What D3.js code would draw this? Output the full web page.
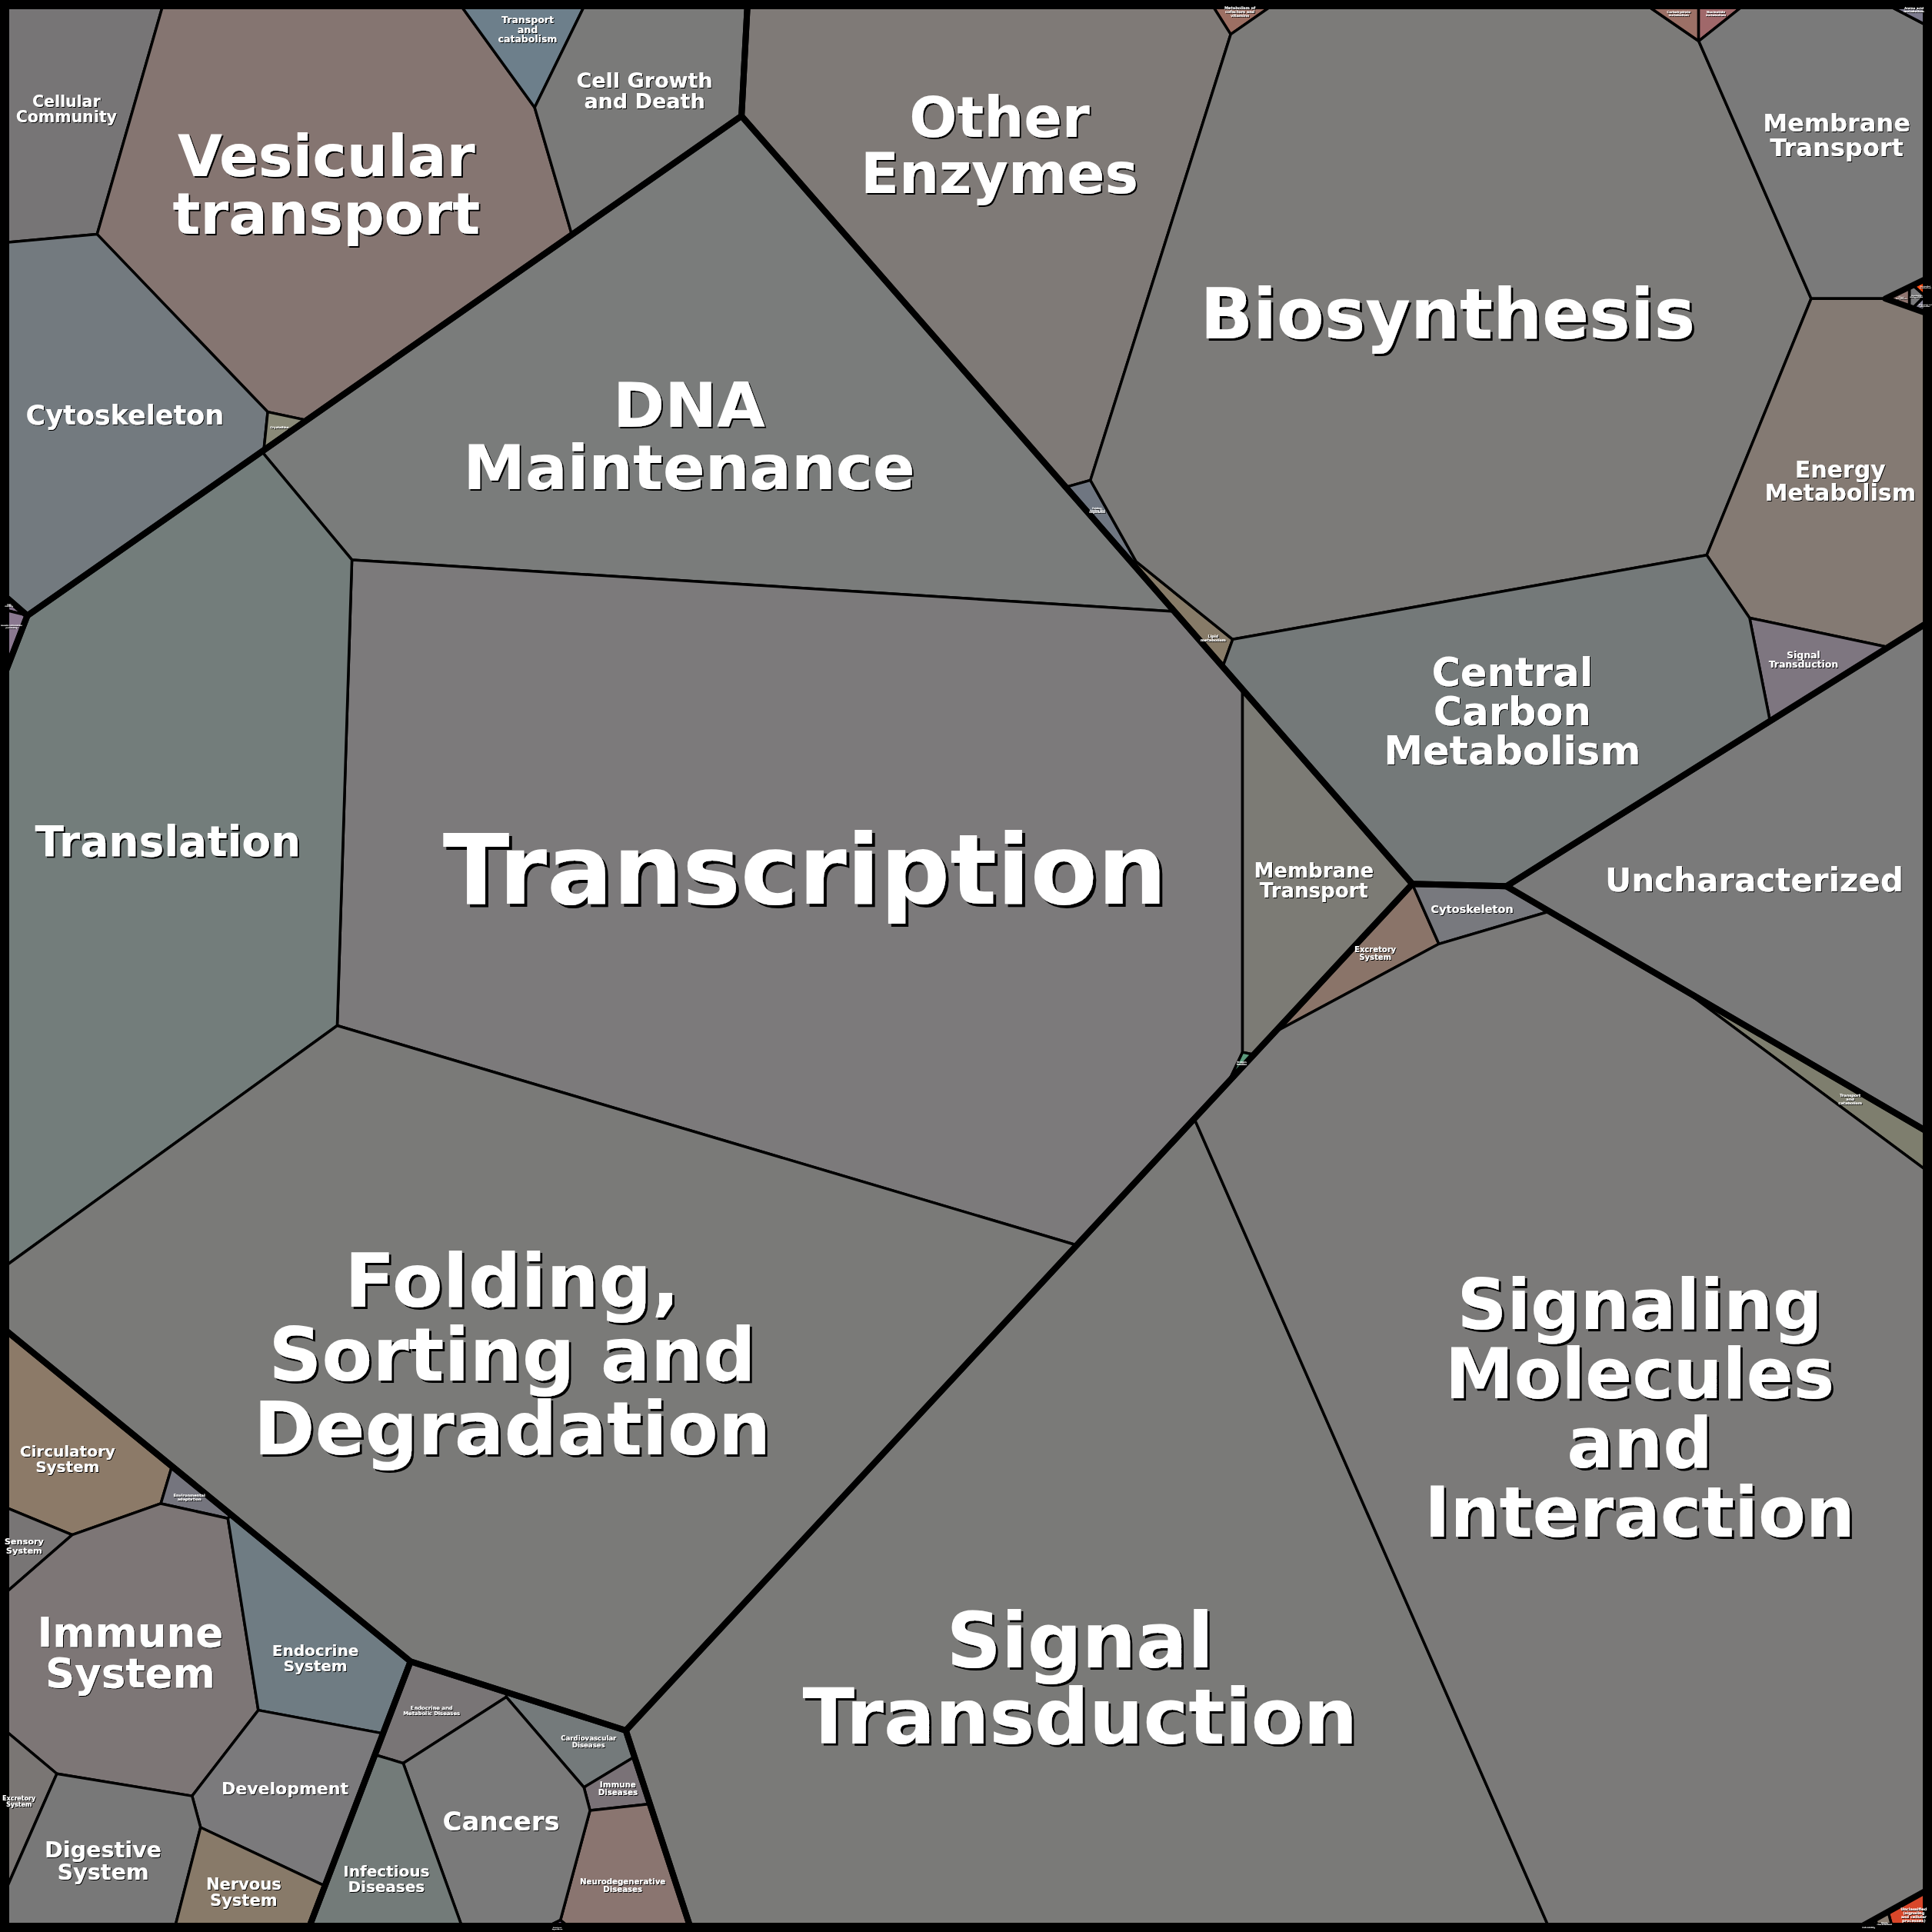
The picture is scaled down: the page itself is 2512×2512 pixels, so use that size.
<!DOCTYPE html>
<html><head><meta charset="utf-8">
<script src="https://cdn.jsdelivr.net/npm/d3@7"></script>
<style>html,body{margin:0;padding:0;background:#000;} svg{display:block;}</style>
</head><body>
<svg id="chart" width="2512" height="2512"></svg>
<script>
// ================= DATA (values = share of area) =================
const groupNames = ["Cellular Processes","Genetic Information Processing","Metabolism","Uncharacterized","Environmental Information Processing","Organismal Systems","Human Diseases","Unclassified"];

const cpNames  = ["Cellular\nCommunity","Vesicular\ntransport","Transport\nand\ncatabolism","Cell Growth\nand Death","Cytoskeleton","Crystalline"];
const cpValues = [204, 918, 46, 221, 433, 5];

const gipNames  = ["DNA\nMaintenance","Transcription","Membrane\nTransport","Protein\nfamilies","Translation","Folding,\nSorting and\nDegradation"];
const gipValues = [1535, 3242, 210, 1.2, 1381, 2775];

const metNames  = ["Metabolism of\ncofactors and\nvitamins","Other\nEnzymes","Folding,\nSorting and\nDegradation","Lipid\nmetabolism","Biosynthesis","Carbohydrate\nmetabolism","Nucleotide\nmetabolism","Membrane\nTransport","Amino acid\nmetabolism","Energy\nMetabolism","Signal\nTransduction","Central\nCarbon\nMetabolism"];
const metValues = [8, 953, 9, 13, 2314, 8, 7, 347, 5, 391, 45, 747];

const umNames  = ["Glycan\nbiosynthesis","Xenobiotics\nbiodegradation","Unclassified\n(metabolism)","Terpenoids and\npolyketides"];
const umValues = [1.6, 1.4, 1.5, 1.5];

const uncNames  = ["Uncharacterized"];
const uncValues = [720];

const eipNames  = ["Excretory\nSystem","Cytoskeleton","Transport\nand\ncatabolism","Signal\nTransduction","Signaling\nMolecules\nand\nInteraction"];
const eipValues = [40, 32, 33, 2804, 3487];

const usNames  = ["Unclassified\n(signaling\nand cellular\nprocesses)","Poorly\ncharacterized","Cell motility"];
const usValues = [9, 1.6, 1.2];

const osNames  = ["Circulatory\nSystem","Environmental\nadaptation","Sensory\nSystem","Immune\nSystem","Endocrine\nSystem","Development","Excretory\nSystem","Digestive\nSystem","Nervous\nSystem"];
const osValues = [137, 10, 22, 386, 136, 135, 33, 163, 68];

const hdNames  = ["Endocrine and\nMetabolic Diseases","Cardiovascular\nDiseases","Immune\nDiseases","Neurodegenerative\nDiseases","Cancers","Infectious\nDiseases","Substance\ndependence"];
const hdValues = [44, 34, 14, 79, 191, 105, 1.5];

const unNames  = ["Cell\nmotility","Genetic information\nprocessing"];
const unValues = [1.5, 7];

// ================= LAYOUT SEEDS (initial site positions, 1568 design grid) =================
const groupSeeds = [[258,220],[626,746],[1172,269],[1450,713],[1148,1231],[113,1373],[391,1479],[8,507]];
const cpSeeds  = [[42,86],[265,150],[428,32],[518,76],[65,342],[221,358]];
const gipSeeds = [[669,228],[640,690],[1045,690],[1008,864],[133,674],[496,1175]];
const metSeeds = [[1006,8],[794,142],[877,438],[1011,481],[1185,265],[1362,8],[1394,8],[1492,131],[1556,8],[1492,390],[1465,518],[1238,563]];
const umSeed = [1545,240];
const umSeeds  = [[1534,241],[1549,241],[1557,232],[1557,249]];
const uncSeeds = [[1450,713]];
const eipSeeds = [[1115,774],[1203,735],[1532,918],[840,1400],[1335,1183]];
const usSeed = [1540,1553];
const usSeeds  = [[1550,1550],[1524,1557],[1508,1562]];
const osSeeds  = [[50,1184],[134,1209],[24,1247],[105,1340],[250,1317],[228,1435],[17,1445],[83,1474],[196,1503]];
const hdSeeds  = [[356,1394],[474,1423],[494,1456],[499,1502],[410,1478],[321,1510],[451,1562]];
const unSeeds  = [[14,489],[8,514]];

// ================= STYLES =================
const cpColors  = ["#777576","#857571","#6d7f8b","#7a7a79","#737a7f","#8a8a78"];
const gipColors = ["#7a7c7b","#7c7a7b","#7c7b75","#5c9a7c","#737d7b","#7a7a78"];
const metColors = ["#9c6f63","#7f7a77","#6f7681","#877b68","#7c7b79","#9c7066","#a0686a","#7a7a7a","#7c7a8e","#847a73","#7e7680","#747979"];
const umColors  = ["#8d736e","#7a7a7c","#ff4b10","#8c8a9c"];
const uncColors = ["#7a7a7a"];
const eipColors = ["#8a7469","#78797e","#7e7e6e","#7a7a78","#7b7a79"];
const usColors  = ["#d9472a","#8c7f72","#9a98a8"];
const osColors  = ["#8c7a68","#75757e","#787575","#7d7676","#6f7c83","#7b7a7c","#7a7674","#787878","#887a69"];
const hdColors  = ["#797576","#747a7b","#7a7277","#8a7570","#7a7a7a","#737b79","#8a6c98"];
const unColors  = ["#86748c","#8a7890"];

const cpFont  = [20.5, 75, 12.5, 27, 35, 4];
const gipFont = [81, 127, 26, 3, 55, 96];
const metFont = [5, 73, 3, 5, 90, 4, 4, 32, 4, 30, 12.4, 51];
const umFont  = [2, 2, 2, 2];
const uncFont = [42];
const eipFont = [10, 14.6, 5, 99, 90];
const usFont  = [5, 2.5, 2.5];
const osFont  = [20, 5, 11.3, 53, 20, 22, 8, 28.6, 21];
const hdFont  = [6.8, 8.6, 10.3, 10.2, 34, 20, 2];
const unFont  = [2.5, 2.5];

// ================= BUILD HIERARCHY =================
const SIZE = 2512, K = SIZE / 1568;
function leaves(names, values, seeds, colors, fonts) {
  return names.map((n, i) => ({name: n, value: values[i], seed: seeds[i], color: colors[i], font: fonts[i]}));
}
const umNode = {name: "Unclassified metabolism", seed: umSeed, children: leaves(umNames, umValues, umSeeds, umColors, umFont)};
const usNode = {name: "Unclassified signaling", seed: usSeed, children: leaves(usNames, usValues, usSeeds, usColors, usFont)};
const groupChildren = [
  leaves(cpNames, cpValues, cpSeeds, cpColors, cpFont),
  leaves(gipNames, gipValues, gipSeeds, gipColors, gipFont),
  leaves(metNames, metValues, metSeeds, metColors, metFont).concat([umNode]),
  leaves(uncNames, uncValues, uncSeeds, uncColors, uncFont),
  leaves(eipNames, eipValues, eipSeeds, eipColors, eipFont).concat([usNode]),
  leaves(osNames, osValues, osSeeds, osColors, osFont),
  leaves(hdNames, hdValues, hdSeeds, hdColors, hdFont),
  leaves(unNames, unValues, unSeeds, unColors, unFont)
];
const rootData = {name: "root", children: groupNames.map((g, i) => ({name: g, seed: groupSeeds[i], children: groupChildren[i]}))};
const root = d3.hierarchy(rootData).sum(d => d.children ? 0 : d.value);

// ================= POWER DIAGRAM (weighted Voronoi) TREEMAP =================
function clipHalf(poly, a, b, c) {
  const out = [], n = poly.length;
  for (let i = 0; i < n; i++) {
    const P = poly[i], Q = poly[(i + 1) % n];
    const fp = a * P[0] + b * P[1] - c, fq = a * Q[0] + b * Q[1] - c;
    if (fp <= 0) out.push(P);
    if ((fp <= 0) !== (fq <= 0)) {
      const t = fp / (fp - fq);
      out.push([P[0] + t * (Q[0] - P[0]), P[1] + t * (Q[1] - P[1])]);
    }
  }
  return out;
}
function powerCell(i, S, clip) {
  let poly = clip;
  const si = S[i];
  for (let j = 0; j < S.length; j++) {
    if (j === i) continue;
    const sj = S[j];
    const a = 2 * (sj.x - si.x), b = 2 * (sj.y - si.y);
    const c = sj.x * sj.x + sj.y * sj.y - si.x * si.x - si.y * si.y - sj.w + si.w;
    poly = clipHalf(poly, a, b, c);
    if (poly.length < 3) return [];
  }
  return poly;
}
const area = P => Math.abs(d3.polygonArea(P));

function solvePower(clip, items) {
  const n = items.length;
  if (n === 1) return [clip];
  const S = items.map(d => ({x: d.x, y: d.y, w: 0}));
  const d2 = S.map(a => S.map(b => (a.x - b.x) ** 2 + (a.y - b.y) ** 2));
  let polys = [];
  for (let it = 0; it < 5000; it++) {
    polys = S.map((s, i) => powerCell(i, S, clip));
    let maxRel = 0;
    const dw = new Array(n).fill(0);
    for (let i = 0; i < n; i++) {
      let dnn = Infinity;
      for (let j = 0; j < n; j++) if (j !== i) dnn = Math.min(dnn, d2[i][j]);
      const P = polys[i], T = items[i].target;
      if (P.length < 3) {
        let m = -Infinity;
        for (let j = 0; j < n; j++) if (j !== i) m = Math.max(m, S[j].w - d2[i][j]);
        dw[i] = Math.max(m + 1 - S[i].w, 0.02 * dnn);
        maxRel = Infinity;
        continue;
      }
      const A = area(P);
      maxRel = Math.max(maxRel, Math.abs(A - T) / T);
      let deriv = 0;
      for (let k = 0; k < P.length; k++) {
        const p = P[k], q = P[(k + 1) % P.length];
        const L = Math.hypot(q[0] - p[0], q[1] - p[1]);
        if (L < 1e-9) continue;
        for (let j = 0; j < n; j++) {
          if (j === i) continue;
          const a = 2 * (S[j].x - S[i].x), b = 2 * (S[j].y - S[i].y);
          const c = S[j].x ** 2 + S[j].y ** 2 - S[i].x ** 2 - S[i].y ** 2 - S[j].w + S[i].w;
          const nr = Math.hypot(a, b);
          if (Math.abs(a * p[0] + b * p[1] - c) / nr < 0.01 && Math.abs(a * q[0] + b * q[1] - c) / nr < 0.01) {
            deriv += L / (2 * Math.sqrt(d2[i][j]));
            break;
          }
        }
      }
      if (deriv <= 0) { dw[i] = (T > A ? 0.02 : -0.02) * dnn; continue; }
      const step = 0.5 * (T - A) / deriv;
      const cap = 0.25 * dnn;
      dw[i] = Math.max(-cap, Math.min(cap, step));
    }
    if (maxRel < 0.002) break;
    for (let i = 0; i < n; i++) S[i].w += dw[i];
  }
  return polys;
}

function layoutNode(node, clip) {
  node.polygon = clip;
  if (!node.children) return;
  const A = area(clip);
  const items = node.children.map(c => ({x: c.data.seed[0] * K, y: c.data.seed[1] * K, target: c.value / node.value * A}));
  const polys = solvePower(clip, items);
  node.children.forEach((c, i) => layoutNode(c, polys[i]));
}
layoutNode(root, [[0, 0], [SIZE, 0], [SIZE, SIZE], [0, SIZE]]);

// ================= DRAW =================
const svg = d3.select("#chart");
const defs = svg.append("defs");
const line = d3.line().curve(d3.curveLinearClosed);
svg.append("rect").attr("width", SIZE).attr("height", SIZE).attr("fill", "#7a7a7a");

const leafNodes = root.leaves().filter(d => d.polygon && d.polygon.length > 2);
svg.append("g").selectAll("path").data(leafNodes).join("path")
  .attr("d", d => line(d.polygon))
  .attr("fill", d => d.data.color)
  .attr("stroke", "#000").attr("stroke-width", 3.5).attr("stroke-linejoin", "round");

const outlineNodes = root.descendants().filter(d => d.depth >= 1 && (d.depth === 1 || d.children) && d.polygon && d.polygon.length > 2);
svg.append("g").selectAll("path").data(outlineNodes).join("path")
  .attr("d", d => line(d.polygon))
  .attr("fill", "none")
  .attr("stroke", "#000").attr("stroke-width", 8).attr("stroke-linejoin", "round");

svg.append("rect").attr("x", 0).attr("y", 0).attr("width", SIZE).attr("height", SIZE)
  .attr("fill", "none").attr("stroke", "#000").attr("stroke-width", 24);

const labels = svg.append("g")
  .attr("font-family", "'DejaVu Sans', Verdana, sans-serif")
  .attr("font-weight", "bold")
  .attr("text-anchor", "middle");

// label anchor: point near the centroid where the text box keeps a margin from every cell edge
function fitAnchor(poly, c, w, h, padFull) {
  const n = poly.length;
  const edges = [];
  for (let i = 0; i < n; i++) {
    const p = poly[i], q = poly[(i + 1) % n];
    const L = Math.hypot(q[0] - p[0], q[1] - p[1]);
    if (L < 1e-6) continue;
    let nx = -(q[1] - p[1]) / L, ny = (q[0] - p[0]) / L;
    if ((c[0] - p[0]) * nx + (c[1] - p[1]) * ny < 0) { nx = -nx; ny = -ny; }
    edges.push([p, nx, ny]);
  }
  const xs = poly.map(p => p[0]), ys = poly.map(p => p[1]);
  const x0 = d3.min(xs), x1 = d3.max(xs), y0 = d3.min(ys), y1 = d3.max(ys);
  const sq = Math.sqrt(area(poly));
  const tries = [[padFull, 0.12 * sq], [padFull * 0.5, 0.2 * sq], [0, Infinity]];
  for (const [pad, rmax] of tries) {
    const ok = (x, y) => {
      for (const [p, nx, ny] of edges) {
        for (const [cx, cy] of [[x - w / 2, y - h / 2], [x + w / 2, y - h / 2], [x + w / 2, y + h / 2], [x - w / 2, y + h / 2]]) {
          if ((cx - p[0]) * nx + (cy - p[1]) * ny < pad) return false;
        }
      }
      return true;
    };
    if (ok(c[0], c[1])) return c;
    const step = Math.max(1, Math.max(x1 - x0, y1 - y0) / 220);
    let best = null, bd = rmax * rmax;
    for (let x = x0; x <= x1; x += step) {
      for (let y = y0; y <= y1; y += step) {
        const dd = (x - c[0]) ** 2 + (y - c[1]) ** 2;
        if (dd < bd && ok(x, y)) { bd = dd; best = [x, y]; }
      }
    }
    if (best) return best;
  }
  return c;
}

leafNodes.forEach((d, idx) => {
  const c = d3.polygonCentroid(d.polygon);
  const fs = d.data.font;
  const lines = d.data.name.split("\n");
  const off = Math.max(0.6, fs * 0.028);
  const fid = "sh" + idx;
  const f = defs.append("filter").attr("id", fid)
    .attr("x", "-5%").attr("y", "-5%").attr("width", "110%").attr("height", "110%");
  f.append("feOffset").attr("in", "SourceAlpha").attr("dx", off).attr("dy", off).attr("result", "o");
  f.append("feFlood").attr("flood-color", "#000");
  f.append("feComposite").attr("in2", "o").attr("operator", "in").attr("result", "s");
  const m = f.append("feMerge");
  m.append("feMergeNode").attr("in", "s");
  m.append("feMergeNode").attr("in", "SourceGraphic");

  const t = labels.append("text")
    .attr("font-size", fs)
    .attr("fill", "#fff")
    .attr("filter", `url(#${fid})`);
  lines.forEach((ln, k) => {
    t.append("tspan").attr("x", 0)
      .attr("y", (k - (lines.length - 1) / 2) * fs)
      .attr("dy", "0.36em")
      .text(ln);
  });
  const bb = t.node().getBBox();
  const a = fitAnchor(d.polygon, c, bb.width, lines.length * fs * 0.9, 16 + 0.45 * fs);
  t.attr("transform", `translate(${a[0]},${a[1]})`);
});
</script>
</body></html>
